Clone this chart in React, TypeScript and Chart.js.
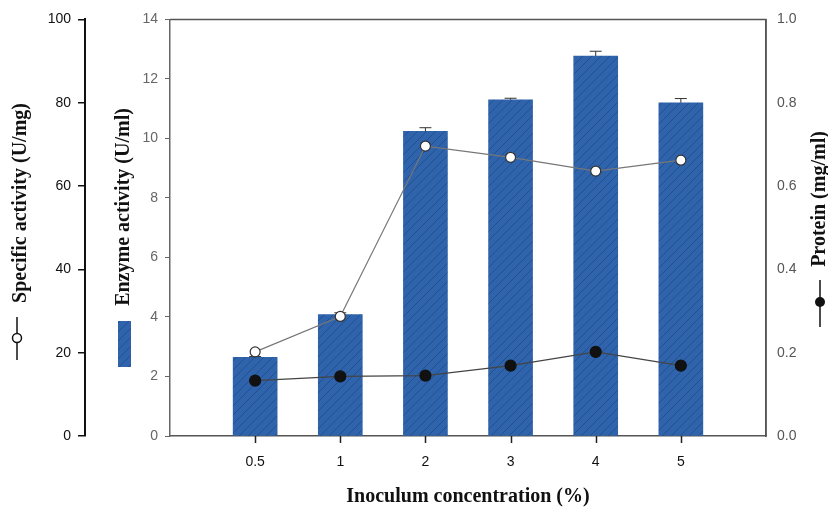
import React, { useEffect, useRef } from 'react';
import { Chart, registerables } from 'chart.js';

Chart.register(...registerables);

const categories = ['0.5', '1', '2', '3', '4', '5'];
const enzymeActivity = [2.64, 4.08, 10.24, 11.3, 12.77, 11.2];
const enzymeError = [0.03, 0.06, 0.12, 0.05, 0.16, 0.14];
const specificActivity = [20.2, 28.7, 69.6, 66.9, 63.6, 66.2];
const protein = [0.133, 0.143, 0.145, 0.169, 0.202, 0.169];
const proteinError = [0.012, 0.014, 0.006, 0.006, 0.01, 0.005];

const specTicks = { min: 0, max: 100, step: 20 };
const enzTicks = { min: 0, max: 14, step: 2 };
const protTicks = { min: 0, max: 1, step: 0.2 };

const BAR_BASE = '#2f63ab';
const BAR_LINE = '#23508f';
const TITLE_FONT = 'bold 20px "Liberation Serif", "Times New Roman", serif';
const TICK_FONT_FAMILY = '"Liberation Sans", Arial, sans-serif';

function makeHatch(): CanvasPattern | string {
  const c = document.createElement('canvas');
  c.width = 9;
  c.height = 9;
  const g = c.getContext('2d');
  if (!g) return BAR_BASE;
  g.fillStyle = BAR_BASE;
  g.fillRect(0, 0, 9, 9);
  g.strokeStyle = BAR_LINE;
  g.lineWidth = 1;
  g.beginPath();
  g.moveTo(0, 9);
  g.lineTo(9, 0);
  g.moveTo(-4.5, 4.5);
  g.lineTo(4.5, -4.5);
  g.moveTo(4.5, 13.5);
  g.lineTo(13.5, 4.5);
  g.stroke();
  return g.createPattern(c, 'repeat') || BAR_BASE;
}

function rotatedText(ctx: CanvasRenderingContext2D, text: string, x: number, y: number) {
  ctx.save();
  ctx.translate(x, y);
  ctx.rotate(-Math.PI / 2);
  ctx.textAlign = 'center';
  ctx.textBaseline = 'middle';
  ctx.fillText(text, 0, 0);
  ctx.restore();
}

export default function App() {
  const ref = useRef<HTMLCanvasElement | null>(null);

  useEffect(() => {
    if (!ref.current) return;
    const hatch = makeHatch();

    const decor = {
      id: 'decor',
      afterDatasetDraw(chart: any, args: any) {
        if (args.index !== 0) return;
        const ctx: CanvasRenderingContext2D = chart.ctx;
        const yEnz = chart.scales.yEnz;
        const yProt = chart.scales.yProt;
        ctx.save();
        ctx.strokeStyle = '#333';
        ctx.lineWidth = 1;
        const barMeta = chart.getDatasetMeta(0);
        barMeta.data.forEach((el: any, i: number) => {
          const yTop = yEnz.getPixelForValue(enzymeActivity[i] + enzymeError[i]);
          ctx.beginPath();
          ctx.moveTo(el.x, el.y);
          ctx.lineTo(el.x, yTop);
          ctx.moveTo(el.x - 6, yTop);
          ctx.lineTo(el.x + 6, yTop);
          ctx.stroke();
        });
        const protMeta = chart.getDatasetMeta(2);
        protMeta.data.forEach((el: any, i: number) => {
          const y1 = yProt.getPixelForValue(protein[i] + proteinError[i]);
          const y2 = yProt.getPixelForValue(protein[i] - proteinError[i]);
          ctx.beginPath();
          ctx.moveTo(el.x, y1);
          ctx.lineTo(el.x, y2);
          ctx.stroke();
        });
        ctx.restore();
      },
      afterDraw(chart: any) {
        const ctx: CanvasRenderingContext2D = chart.ctx;
        const { top, bottom, left, right } = chart.chartArea;
        const xScale = chart.scales.x;
        ctx.save();
        ctx.strokeStyle = '#555';
        ctx.lineWidth = 1.5;
        ctx.beginPath();
        ctx.moveTo(left, top);
        ctx.lineTo(right, top);
        ctx.lineTo(right, bottom);
        ctx.stroke();

        // x tick marks
        ctx.strokeStyle = '#222';
        ctx.lineWidth = 1.5;
        categories.forEach((_, i) => {
          const x = Math.round(xScale.getPixelForValue(i + 1)) + 0.5;
          ctx.beginPath();
          ctx.moveTo(x, bottom);
          ctx.lineTo(x, bottom + 7);
          ctx.stroke();
        });

        ctx.fillStyle = '#111';
        ctx.font = TITLE_FONT;
        const ySpec = chart.scales.ySpec;
        const yEnz = chart.scales.yEnz;
        const yProt = chart.scales.yProt;
        rotatedText(ctx, 'Specific activity (U/mg)', ySpec.left + 21, 203);
        rotatedText(ctx, 'Enzyme activity (U/ml)', yEnz.left + 39, 207);
        rotatedText(ctx, 'Protein (mg/ml)', yProt.left + 54, 199);
        ctx.textAlign = 'center';
        ctx.textBaseline = 'middle';
        ctx.fillText('Inoculum concentration (%)', (left + right) / 2, 497);

        ctx.strokeStyle = '#111';
        ctx.lineWidth = 1.5;
        const sx = ySpec.left + 17;
        ctx.beginPath();
        ctx.moveTo(sx, 317);
        ctx.lineTo(sx, 360);
        ctx.stroke();
        ctx.beginPath();
        ctx.arc(sx, 338, 4.5, 0, Math.PI * 2);
        ctx.fillStyle = '#fff';
        ctx.fill();
        ctx.stroke();

        ctx.fillStyle = hatch as any;
        ctx.fillRect(yEnz.left + 33, 321, 13, 46);

        const px = yProt.left + 54;
        ctx.beginPath();
        ctx.moveTo(px, 280);
        ctx.lineTo(px, 327);
        ctx.stroke();
        ctx.beginPath();
        ctx.arc(px, 302, 5, 0, Math.PI * 2);
        ctx.fillStyle = '#111';
        ctx.fill();
        ctx.restore();
      },
    };

    const chart = new Chart(ref.current, {
      type: 'bar',
      data: {
        datasets: [
          {
            type: 'bar',
            label: 'Enzyme activity (U/ml)',
            data: categories.map((_, i) => ({ x: i + 1, y: enzymeActivity[i] })),
            backgroundColor: hatch as any,
            borderWidth: 0,
            barThickness: 44,
            yAxisID: 'yEnz',
            xAxisID: 'x',
            order: 2,
          },
          {
            type: 'line',
            label: 'Specific activity (U/mg)',
            data: categories.map((_, i) => ({ x: i + 1, y: specificActivity[i] })),
            borderColor: '#777',
            borderWidth: 1.2,
            pointRadius: 5,
            pointBackgroundColor: '#fff',
            pointBorderColor: '#333',
            pointBorderWidth: 1.2,
            yAxisID: 'ySpec',
            xAxisID: 'x',
            order: 0,
          },
          {
            type: 'line',
            label: 'Protein (mg/ml)',
            data: categories.map((_, i) => ({ x: i + 1, y: protein[i] })),
            borderColor: '#444',
            borderWidth: 1.2,
            pointRadius: 5.5,
            pointBackgroundColor: '#111',
            pointBorderColor: '#111',
            yAxisID: 'yProt',
            xAxisID: 'x',
            order: 1,
          },
        ],
      } as any,
      options: {
        responsive: false,
        animation: false,
        layout: { padding: { top: 15, left: 0, right: 0, bottom: 0 } },
        plugins: { legend: { display: false }, tooltip: { enabled: false } },
        scales: {
          x: {
            type: 'linear',
            position: 'bottom',
            min: 0,
            max: 7,
            offset: false,
            afterBuildTicks: (s: any) => {
              s.ticks = categories.map((_, i) => ({ value: i + 1 }));
            },
            afterFit: (s: any) => {
              s.height = 71;
            },
            ticks: {
              callback: (v: any) => categories[Number(v) - 1] ?? '',
              color: '#111',
              font: { family: TICK_FONT_FAMILY, size: 14 },
              padding: 10,
              maxRotation: 0,
              autoSkip: false,
            },
            grid: { display: false },
            border: { display: true, color: '#555', width: 1.5 },
          },
          ySpec: {
            type: 'linear',
            position: 'left',
            weight: 2,
            min: specTicks.min,
            max: specTicks.max,
            afterFit: (s: any) => {
              s.width = 85;
            },
            ticks: {
              stepSize: specTicks.step,
              color: '#111',
              font: { family: TICK_FONT_FAMILY, size: 14 },
              padding: 7,
            },
            grid: { drawOnChartArea: false, tickLength: 7, color: '#111', lineWidth: 1.5 },
            border: { color: '#111', width: 2 },
          },
          yEnz: {
            type: 'linear',
            position: 'left',
            weight: 1,
            min: enzTicks.min,
            max: enzTicks.max,
            afterFit: (s: any) => {
              s.width = 85;
            },
            ticks: {
              stepSize: enzTicks.step,
              color: '#666',
              font: { family: TICK_FONT_FAMILY, size: 14 },
              padding: 7,
            },
            grid: { drawOnChartArea: false, tickLength: 5, color: '#666' },
            border: { color: '#666', width: 1.5 },
          },
          yProt: {
            type: 'linear',
            position: 'right',
            min: protTicks.min,
            max: protTicks.max,
            afterFit: (s: any) => {
              s.width = 62;
            },
            ticks: {
              stepSize: protTicks.step,
              color: '#555',
              font: { family: TICK_FONT_FAMILY, size: 14 },
              padding: 11,
              callback: (v: any) => Number(v).toFixed(1),
            },
            grid: { drawOnChartArea: false, drawTicks: false },
            border: { color: '#555', width: 1.5 },
          },
        },
      } as any,
      plugins: [decor],
    });

    return () => chart.destroy();
  }, []);

  return (
    <div style={{ position: 'absolute', left: 0, top: 0, width: 828, height: 507, background: '#fff' }}>
      <canvas ref={ref} width={828} height={507} />
    </div>
  );
}
